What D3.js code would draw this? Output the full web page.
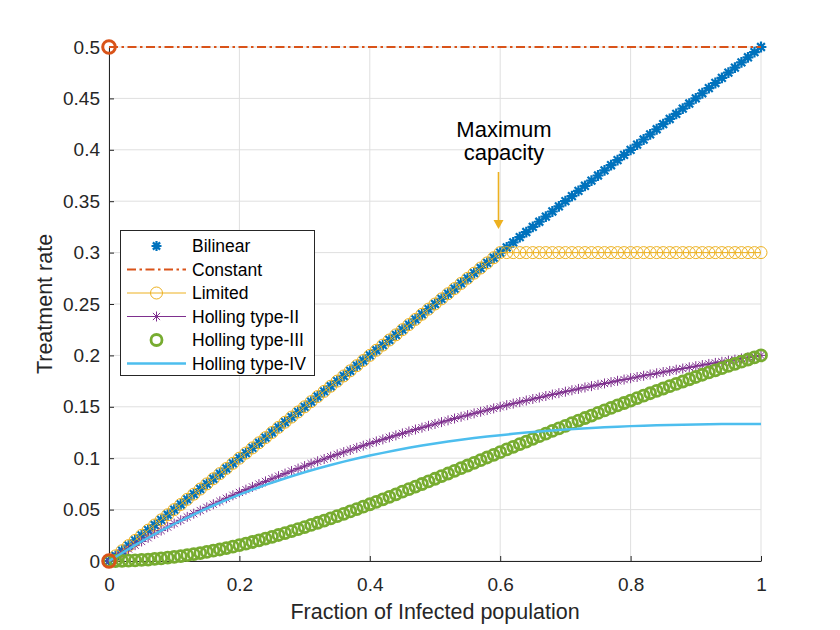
<!DOCTYPE html>
<html>
<head>
<meta charset="utf-8">
<script src="https://cdn.jsdelivr.net/npm/d3@7"></script>
<style>
  html, body { margin: 0; padding: 0; background: #fff; }
  svg { display: block; font-family: "Liberation Sans", Arial, sans-serif; }
</style>
</head>
<body>
<svg id="chart" width="840" height="630"></svg>
<script>
// ---- data ----
const xs = [
  0, 0.01, 0.02, 0.03, 0.04, 0.05, 0.06, 0.07, 0.08, 0.09,
  0.1, 0.11, 0.12, 0.13, 0.14, 0.15, 0.16, 0.17, 0.18, 0.19,
  0.2, 0.21, 0.22, 0.23, 0.24, 0.25, 0.26, 0.27, 0.28, 0.29,
  0.3, 0.31, 0.32, 0.33, 0.34, 0.35, 0.36, 0.37, 0.38, 0.39,
  0.4, 0.41, 0.42, 0.43, 0.44, 0.45, 0.46, 0.47, 0.48, 0.49,
  0.5, 0.51, 0.52, 0.53, 0.54, 0.55, 0.56, 0.57, 0.58, 0.59,
  0.6, 0.61, 0.62, 0.63, 0.64, 0.65, 0.66, 0.67, 0.68, 0.69,
  0.7, 0.71, 0.72, 0.73, 0.74, 0.75, 0.76, 0.77, 0.78, 0.79,
  0.8, 0.81, 0.82, 0.83, 0.84, 0.85, 0.86, 0.87, 0.88, 0.89,
  0.9, 0.91, 0.92, 0.93, 0.94, 0.95, 0.96, 0.97, 0.98, 0.99,
  1
];

const bilinear = [
  0, 0.005, 0.01, 0.015, 0.02, 0.025, 0.03, 0.035, 0.04, 0.045,
  0.05, 0.055, 0.06, 0.065, 0.07, 0.075, 0.08, 0.085, 0.09, 0.095,
  0.1, 0.105, 0.11, 0.115, 0.12, 0.125, 0.13, 0.135, 0.14, 0.145,
  0.15, 0.155, 0.16, 0.165, 0.17, 0.175, 0.18, 0.185, 0.19, 0.195,
  0.2, 0.205, 0.21, 0.215, 0.22, 0.225, 0.23, 0.235, 0.24, 0.245,
  0.25, 0.255, 0.26, 0.265, 0.27, 0.275, 0.28, 0.285, 0.29, 0.295,
  0.3, 0.305, 0.31, 0.315, 0.32, 0.325, 0.33, 0.335, 0.34, 0.345,
  0.35, 0.355, 0.36, 0.365, 0.37, 0.375, 0.38, 0.385, 0.39, 0.395,
  0.4, 0.405, 0.41, 0.415, 0.42, 0.425, 0.43, 0.435, 0.44, 0.445,
  0.45, 0.455, 0.46, 0.465, 0.47, 0.475, 0.48, 0.485, 0.49, 0.495,
  0.5
];

const constantX = [0, 1];
const constantY = [0.5, 0.5];
const constantMarkX = [0, 0];
const constantMarkY = [0, 0.5];

const limited = [
  0, 0.005, 0.01, 0.015, 0.02, 0.025, 0.03, 0.035, 0.04, 0.045,
  0.05, 0.055, 0.06, 0.065, 0.07, 0.075, 0.08, 0.085, 0.09, 0.095,
  0.1, 0.105, 0.11, 0.115, 0.12, 0.125, 0.13, 0.135, 0.14, 0.145,
  0.15, 0.155, 0.16, 0.165, 0.17, 0.175, 0.18, 0.185, 0.19, 0.195,
  0.2, 0.205, 0.21, 0.215, 0.22, 0.225, 0.23, 0.235, 0.24, 0.245,
  0.25, 0.255, 0.26, 0.265, 0.27, 0.275, 0.28, 0.285, 0.29, 0.295,
  0.3, 0.3, 0.3, 0.3, 0.3, 0.3, 0.3, 0.3, 0.3, 0.3,
  0.3, 0.3, 0.3, 0.3, 0.3, 0.3, 0.3, 0.3, 0.3, 0.3,
  0.3, 0.3, 0.3, 0.3, 0.3, 0.3, 0.3, 0.3, 0.3, 0.3,
  0.3, 0.3, 0.3, 0.3, 0.3, 0.3, 0.3, 0.3, 0.3, 0.3,
  0.3
];

const hollingII = [
  0, 0.0040, 0.0078, 0.0117, 0.0154, 0.0190, 0.0226, 0.0262, 0.0296, 0.0330,
  0.0364, 0.0396, 0.0429, 0.0460, 0.0491, 0.0522, 0.0552, 0.0581, 0.0610, 0.0639,
  0.0667, 0.0694, 0.0721, 0.0748, 0.0774, 0.0800, 0.0825, 0.0850, 0.0875, 0.0899,
  0.0923, 0.0947, 0.0970, 0.0992, 0.1015, 0.1037, 0.1059, 0.1080, 0.1101, 0.1122,
  0.1143, 0.1163, 0.1183, 0.1203, 0.1222, 0.1241, 0.1260, 0.1279, 0.1297, 0.1315,
  0.1333, 0.1351, 0.1368, 0.1386, 0.1403, 0.1419, 0.1436, 0.1452, 0.1468, 0.1484,
  0.1500, 0.1516, 0.1531, 0.1546, 0.1561, 0.1576, 0.1590, 0.1605, 0.1619, 0.1633,
  0.1647, 0.1661, 0.1674, 0.1688, 0.1701, 0.1714, 0.1727, 0.1740, 0.1753, 0.1765,
  0.1778, 0.1790, 0.1802, 0.1814, 0.1826, 0.1838, 0.1849, 0.1861, 0.1872, 0.1884,
  0.1895, 0.1906, 0.1917, 0.1927, 0.1938, 0.1949, 0.1959, 0.1970, 0.1980, 0.1990,
  0.2000
];

const hollingIII = [
  0, 0.0000, 0.0002, 0.0004, 0.0006, 0.0010, 0.0014, 0.0020, 0.0025, 0.0032,
  0.0040, 0.0048, 0.0057, 0.0066, 0.0077, 0.0088, 0.0100, 0.0112, 0.0126, 0.0139,
  0.0154, 0.0169, 0.0185, 0.0201, 0.0218, 0.0235, 0.0253, 0.0272, 0.0291, 0.0310,
  0.0330, 0.0351, 0.0372, 0.0393, 0.0414, 0.0436, 0.0459, 0.0482, 0.0505, 0.0528,
  0.0552, 0.0576, 0.0600, 0.0624, 0.0649, 0.0674, 0.0699, 0.0724, 0.0749, 0.0774,
  0.0800, 0.0826, 0.0851, 0.0877, 0.0903, 0.0929, 0.0955, 0.0981, 0.1007, 0.1033,
  0.1059, 0.1085, 0.1111, 0.1137, 0.1162, 0.1188, 0.1214, 0.1239, 0.1265, 0.1290,
  0.1315, 0.1341, 0.1366, 0.1391, 0.1415, 0.1440, 0.1465, 0.1489, 0.1513, 0.1537,
  0.1561, 0.1585, 0.1608, 0.1632, 0.1655, 0.1678, 0.1701, 0.1723, 0.1746, 0.1768,
  0.1790, 0.1812, 0.1834, 0.1855, 0.1876, 0.1898, 0.1918, 0.1939, 0.1960, 0.1980,
  0.2000
];

const xsIV = [
  0, 0.02, 0.04, 0.06, 0.08, 0.1, 0.12, 0.14, 0.16, 0.18,
  0.2, 0.22, 0.24, 0.26, 0.28, 0.3, 0.32, 0.34, 0.36, 0.38,
  0.4, 0.42, 0.44, 0.46, 0.48, 0.5, 0.52, 0.54, 0.56, 0.58,
  0.6, 0.62, 0.64, 0.66, 0.68, 0.7, 0.72, 0.74, 0.76, 0.78,
  0.8, 0.82, 0.84, 0.86, 0.88, 0.9, 0.92, 0.94, 0.96, 0.98,
  1
];
const hollingIV = [
  0, 0.0078, 0.0154, 0.0226, 0.0295, 0.0360, 0.0423, 0.0483, 0.0540, 0.0594,
  0.0645, 0.0694, 0.0740, 0.0783, 0.0825, 0.0863, 0.0900, 0.0934, 0.0967, 0.0997,
  0.1026, 0.1052, 0.1077, 0.1101, 0.1123, 0.1143, 0.1162, 0.1179, 0.1196, 0.1211,
  0.1224, 0.1237, 0.1249, 0.1260, 0.1270, 0.1279, 0.1287, 0.1294, 0.1301, 0.1306,
  0.1312, 0.1316, 0.1320, 0.1323, 0.1326, 0.1328, 0.1330, 0.1332, 0.1333, 0.1333,
  0.1333
];

const seriesNames = ["Bilinear", "Constant", "Limited", "Holling type-II", "Holling type-III", "Holling type-IV"];
const xTicks = [0, 0.2, 0.4, 0.6, 0.8, 1];
const yTicks = [0, 0.05, 0.1, 0.15, 0.2, 0.25, 0.3, 0.35, 0.4, 0.45, 0.5];

// ---- layout ----
const plot = { left: 109, top: 47, right: 761, bottom: 561 };
const axisColor = "#262626";
const colors = {
  blue: "#0072BD", orange: "#D95319", yellow: "#EDB120",
  purple: "#7E2F8E", green: "#77AC30", cyan: "#4DBEEE"
};

const x = d3.scaleLinear().domain([0, 1]).range([plot.left, plot.right]);
const y = d3.scaleLinear().domain([0, 0.5]).range([plot.bottom, plot.top]);

const svg = d3.select("#chart");
const fmt = (d) => String(+d.toFixed(2));

// asterisk like MATLAB's '*' marker (+ and x overlaid)
function asterisk(r) {
  const a = r * 0.72;
  return `M${-r},0L${r},0M0,${-r}L0,${r}M${-a},${-a}L${a},${a}M${-a},${a}L${a},${-a}`;
}

// Grid
const grid = svg.append("g").attr("stroke", "#dfdfdf").attr("stroke-width", 1);
grid.selectAll(".gx")
  .data(xTicks)
  .enter()
  .append("line")
  .attr("x1", (d) => x(d)).attr("x2", (d) => x(d))
  .attr("y1", plot.top).attr("y2", plot.bottom);
grid.selectAll(".gy")
  .data(yTicks)
  .enter()
  .append("line")
  .attr("x1", plot.left).attr("x2", plot.right)
  .attr("y1", (d) => y(d)).attr("y2", (d) => y(d));

// Axes (box off, ticks inside)
const xAxis = svg.append("g")
  .attr("transform", `translate(0,${plot.bottom})`)
  .call(d3.axisBottom(x).tickValues(xTicks).tickFormat(fmt).tickSizeInner(-5).tickSizeOuter(0).tickPadding(17));
const yAxis = svg.append("g")
  .attr("transform", `translate(${plot.left},0)`)
  .call(d3.axisLeft(y).tickValues(yTicks).tickFormat(fmt).tickSizeInner(-5).tickSizeOuter(0).tickPadding(9));

[xAxis, yAxis].forEach((ax) => {
  ax.select(".domain").attr("stroke", axisColor);
  ax.selectAll(".tick line").attr("stroke", axisColor);
  ax.selectAll(".tick text")
    .attr("fill", axisColor)
    .style("font-size", "19px")
    .style("font-family", '"Liberation Sans", Arial, sans-serif');
});

// Axis labels
svg.append("text")
  .attr("x", (plot.left + plot.right) / 2)
  .attr("y", 619)
  .attr("text-anchor", "middle")
  .attr("fill", axisColor)
  .style("font-size", "21.5px")
  .text("Fraction of Infected population");

svg.append("text")
  .attr("transform", `translate(52,${(plot.top + plot.bottom) / 2}) rotate(-90)`)
  .attr("text-anchor", "middle")
  .attr("fill", axisColor)
  .style("font-size", "21.5px")
  .text("Treatment rate");

const lineIdx = (xv) => d3.line().x((d, i) => x(xv[i])).y((d) => y(d));

// Bilinear: blue asterisks
svg.append("g")
  .selectAll("path")
  .data(bilinear)
  .enter()
  .append("path")
  .attr("transform", (d, i) => `translate(${x(xs[i])},${y(d)})`)
  .attr("d", asterisk(5.4))
  .attr("fill", "none")
  .attr("stroke", colors.blue)
  .attr("stroke-width", 2.2);

// Constant: dash-dot line
svg.append("path")
  .datum(constantY)
  .attr("d", lineIdx(constantX))
  .attr("fill", "none")
  .attr("stroke", colors.orange)
  .attr("stroke-width", 2.2)
  .attr("stroke-dasharray", "9,3.5,2.5,3.5");

// Limited: yellow line with circles
svg.append("path")
  .datum(limited)
  .attr("d", lineIdx(xs))
  .attr("fill", "none")
  .attr("stroke", colors.yellow)
  .attr("stroke-width", 1);
svg.append("g")
  .selectAll("circle")
  .data(limited)
  .enter()
  .append("circle")
  .attr("cx", (d, i) => x(xs[i]))
  .attr("cy", (d) => y(d))
  .attr("r", 6)
  .attr("fill", "none")
  .attr("stroke", colors.yellow)
  .attr("stroke-width", 1);

// Holling type-II: purple line with asterisks
svg.append("path")
  .datum(hollingII)
  .attr("d", lineIdx(xs))
  .attr("fill", "none")
  .attr("stroke", colors.purple)
  .attr("stroke-width", 1.2);
svg.append("g")
  .selectAll("path")
  .data(hollingII)
  .enter()
  .append("path")
  .attr("transform", (d, i) => `translate(${x(xs[i])},${y(d)})`)
  .attr("d", asterisk(5))
  .attr("fill", "none")
  .attr("stroke", colors.purple)
  .attr("stroke-width", 1);

// Holling type-III: thick green circles
svg.append("g")
  .selectAll("circle")
  .data(hollingIII)
  .enter()
  .append("circle")
  .attr("cx", (d, i) => x(xs[i]))
  .attr("cy", (d) => y(d))
  .attr("r", 5.5)
  .attr("fill", "none")
  .attr("stroke", colors.green)
  .attr("stroke-width", 2.8);

// Holling type-IV: light blue line
svg.append("path")
  .datum(hollingIV)
  .attr("d", lineIdx(xsIV))
  .attr("fill", "none")
  .attr("stroke", colors.cyan)
  .attr("stroke-width", 2.5);

// Constant end markers at I = 0
svg.append("g")
  .selectAll("circle")
  .data(constantMarkY)
  .enter()
  .append("circle")
  .attr("cx", (d, i) => x(constantMarkX[i]))
  .attr("cy", (d) => y(d))
  .attr("r", 6.3)
  .attr("fill", "none")
  .attr("stroke", colors.orange)
  .attr("stroke-width", 3);

// Annotation: maximum capacity
const ann = svg.append("g");
ann.append("text")
  .attr("x", 504).attr("y", 137)
  .attr("text-anchor", "middle")
  .attr("fill", "#000")
  .style("font-size", "22px")
  .text("Maximum");
ann.append("text")
  .attr("x", 504).attr("y", 160)
  .attr("text-anchor", "middle")
  .attr("fill", "#000")
  .style("font-size", "22px")
  .text("capacity");
ann.append("line")
  .attr("x1", 498.5).attr("x2", 498.5)
  .attr("y1", 172).attr("y2", 221)
  .attr("stroke", colors.yellow)
  .attr("stroke-width", 1.6);
ann.append("path")
  .attr("d", "M493.5,220L498.5,229L503.5,220Z")
  .attr("fill", colors.yellow);

// Legend
const legend = svg.append("g");
legend.append("rect")
  .attr("x", 120.5).attr("y", 230.5)
  .attr("width", 194).attr("height", 145)
  .attr("fill", "#fff")
  .attr("stroke", axisColor)
  .attr("stroke-width", 1);

const rowY = (i) => 246 + i * 23.5;
const sx0 = 127, sx1 = 186, sxm = 156.5;

seriesNames.forEach((name, i) => {
  const row = legend.append("g").attr("transform", `translate(0,${rowY(i)})`);
  if (i === 0) {
    row.append("path").attr("transform", `translate(${sxm},0)`).attr("d", asterisk(5))
      .attr("fill", "none").attr("stroke", colors.blue).attr("stroke-width", 2.2);
  } else if (i === 1) {
    row.append("line").attr("x1", sx0).attr("x2", sx1)
      .attr("stroke", colors.orange).attr("stroke-width", 2.2).attr("stroke-dasharray", "9,3.5,2.5,3.5");
  } else if (i === 2) {
    row.append("line").attr("x1", sx0).attr("x2", sx1).attr("stroke", colors.yellow).attr("stroke-width", 1);
    row.append("circle").attr("cx", sxm).attr("r", 6)
      .attr("fill", "none").attr("stroke", colors.yellow).attr("stroke-width", 1);
  } else if (i === 3) {
    row.append("line").attr("x1", sx0).attr("x2", sx1).attr("stroke", colors.purple).attr("stroke-width", 1.2);
    row.append("path").attr("transform", `translate(${sxm},0)`).attr("d", asterisk(5))
      .attr("fill", "none").attr("stroke", colors.purple).attr("stroke-width", 1);
  } else if (i === 4) {
    row.append("circle").attr("cx", sxm).attr("r", 5.5)
      .attr("fill", "none").attr("stroke", colors.green).attr("stroke-width", 2.8);
  } else {
    row.append("line").attr("x1", sx0).attr("x2", sx1).attr("stroke", colors.cyan).attr("stroke-width", 2.5);
  }
  row.append("text")
    .attr("x", 192)
    .attr("dy", "0.35em")
    .attr("fill", "#000")
    .style("font-size", "17.5px")
    .text(name);
});
</script>
</body>
</html>
